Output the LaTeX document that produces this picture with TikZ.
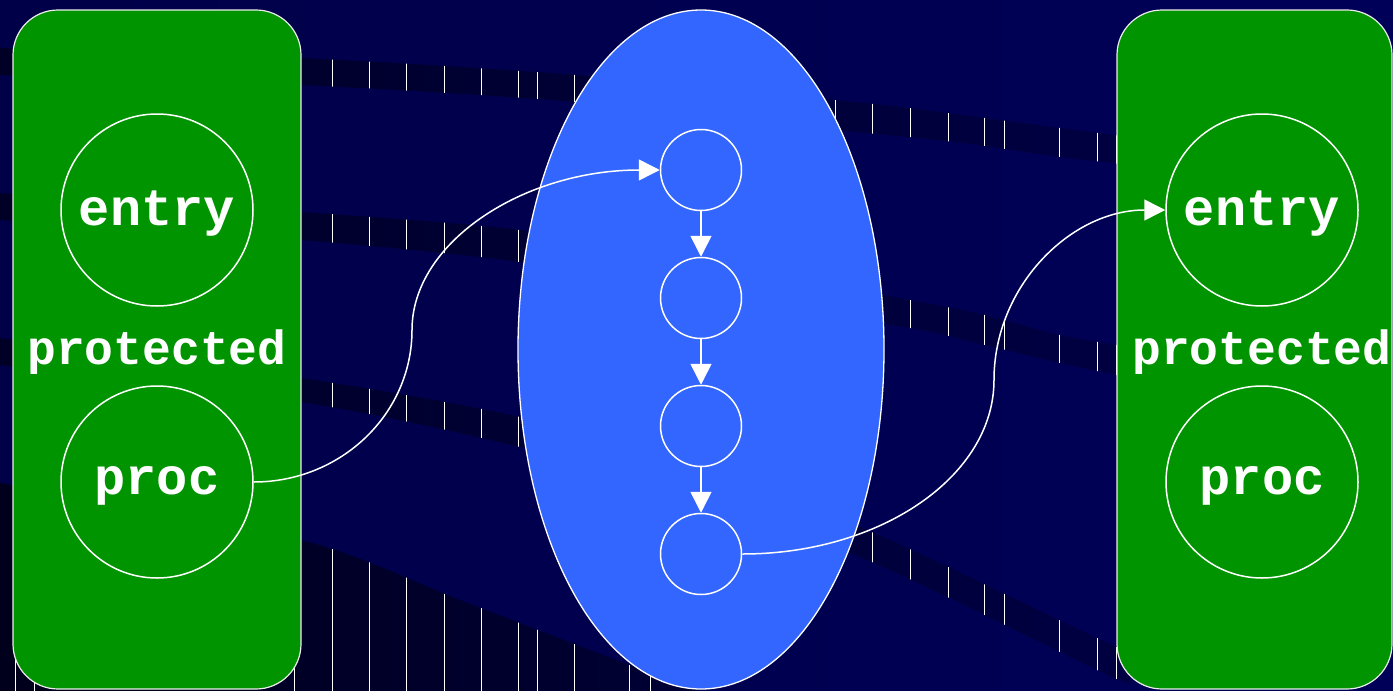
\documentclass[tikz,border=0pt]{standalone}
\usepackage{fontspec}
\setmonofont{Liberation Mono}
\usetikzlibrary{arrows.meta}
\definecolor{navyL}{RGB}{0,0,72}
\definecolor{navyR}{RGB}{0,0,88}
\definecolor{bandL}{RGB}{0,0,38}
\definecolor{bandR}{RGB}{0,0,66}
\definecolor{botL}{RGB}{0,0,28}
\definecolor{botR}{RGB}{0,0,52}
\definecolor{boxgreen}{RGB}{0,148,0}
\definecolor{ellblue}{RGB}{51,102,255}
\newcommand\ticklines{\foreach \tx in {15.6,34.4,294.6,332.6,369.6,406.7,444.6,481.3,518.8,537.5,574.6,629,650,835,872.6,910,948,984.5,1004,1059,1097,1116}{\draw[ticksty] (\tx,0) -- (\tx,691);}}
\begin{document}
\begin{tikzpicture}[x=1pt,y=-1pt,
  ticksty/.style={white, line width=0.9pt},
  box/.style={draw=white!85!gray, line width=1.2pt, fill=boxgreen, rounded corners=45pt},
  bigc/.style={circle, draw=white, line width=1.5pt, minimum size=192pt, inner sep=0pt},
  smallc/.style={circle, draw=white, line width=1.5pt, minimum size=81pt, inner sep=0pt},
  lbl/.style={text=white, font=\ttfamily\bfseries\fontsize{52}{52}\selectfont, anchor=base, inner sep=0pt},
  plbl/.style={text=white, font=\ttfamily\bfseries\fontsize{48}{48}\selectfont, anchor=base, inner sep=0pt},
  conn/.style={draw=white, line width=1.5pt, -{Triangle[length=21pt,width=21pt]}},
]
\useasboundingbox (0,0) rectangle (1393,691);
% background
\shade[left color=navyL, right color=navyR] (0,0) rectangle (1393,691);
% dark bands
\shade[left color=bandL, right color=bandR] plot[smooth] coordinates {(0,48) (301,58) (576,75) (835,100) (910,108) (985,118) (1060,128) (1130,137)}
  -- plot[smooth] coordinates {(1130,165) (1060,157) (985,146) (910,137) (835,130) (576,102) (301,85) (0,75)} -- cycle;
\shade[left color=bandL, right color=bandR] plot[smooth] coordinates {(0,193) (301,212) (520,230) (700,262) (910,300) (985,315) (1060,335) (1130,347)}
  -- plot[smooth] coordinates {(1130,378) (1060,363) (985,345) (910,328) (700,295) (520,262) (301,240) (0,220)} -- cycle;
\shade[left color=bandL, right color=bandR] plot[smooth] coordinates {(0,338) (301,378) (520,417) (700,468) (872,532) (1097,638) (1130,652)}
  -- plot[smooth] coordinates {(1130,684) (1097,670) (872,562) (700,500) (520,447) (301,402) (0,365)} -- cycle;
\shade[left color=botL, right color=botR] plot[smooth] coordinates {(0,483) (301,540) (460,600) (616,660) (700,691)} -- (0,691) -- cycle;
% gradient artefact ticks
\begin{scope}
\clip plot[smooth] coordinates {(0,48) (301,58) (576,75) (835,100) (910,108) (985,118) (1060,128) (1130,137)}
  -- plot[smooth] coordinates {(1130,165) (1060,157) (985,146) (910,137) (835,130) (576,102) (301,85) (0,75)} -- cycle;
\ticklines
\end{scope}
\begin{scope}
\clip plot[smooth] coordinates {(0,193) (301,212) (520,230) (700,262) (910,300) (985,315) (1060,335) (1130,347)}
  -- plot[smooth] coordinates {(1130,378) (1060,363) (985,345) (910,328) (700,295) (520,262) (301,240) (0,220)} -- cycle;
\ticklines
\end{scope}
\begin{scope}
\clip plot[smooth] coordinates {(0,338) (301,378) (520,417) (700,468) (872,532) (1097,638) (1130,652)}
  -- plot[smooth] coordinates {(1130,684) (1097,670) (872,562) (700,500) (520,447) (301,402) (0,365)} -- cycle;
\ticklines
\end{scope}
\begin{scope}
\clip plot[smooth] coordinates {(0,483) (301,540) (460,600) (616,660) (700,691)} -- (0,691) -- cycle;
\ticklines
\end{scope}
% boxes and ellipse
\draw[box] (13,10) rectangle (301,689);
\draw[box] (1117,10) rectangle (1392,689);
\draw[draw=white, line width=1.3pt, fill=ellblue] (701,349.5) ellipse [x radius=183, y radius=339.5];
% left module
\node[bigc] (le) at (157,210) {};
\node[bigc] (lp) at (157,482) {};
\node[lbl] (let) at (157,225) {entry};
\node[plbl] (lpt) at (157,364) {protected};
\node[lbl] (lpp) at (157,494) {proc};
% right module
\node[bigc] (re) at (1262,210) {};
\node[bigc] (rp) at (1262,482) {};
\node[lbl] (ret) at (1262,225) {entry};
\node[plbl] (rpt) at (1262,364) {protected};
\node[lbl] (rpp) at (1262,494) {proc};
% chain
\node[smallc] (s1) at (701,170) {};
\node[smallc] (s2) at (701,298) {};
\node[smallc] (s3) at (701,426) {};
\node[smallc] (s4) at (701,554) {};
\draw[conn] (s1) -- (s2);
\draw[conn] (s2) -- (s3);
\draw[conn] (s3) -- (s4);
% connectors
\draw[conn] (lp.east) .. controls (341,482) and (412,414) .. (412,330) .. controls (412,242) and (524,170) .. (s1.west);
\draw[conn] (s4.east) .. controls (881,554) and (994,476) .. (994,380) .. controls (994,286) and (1071,210) .. (re.west);
\end{tikzpicture}
\end{document}
